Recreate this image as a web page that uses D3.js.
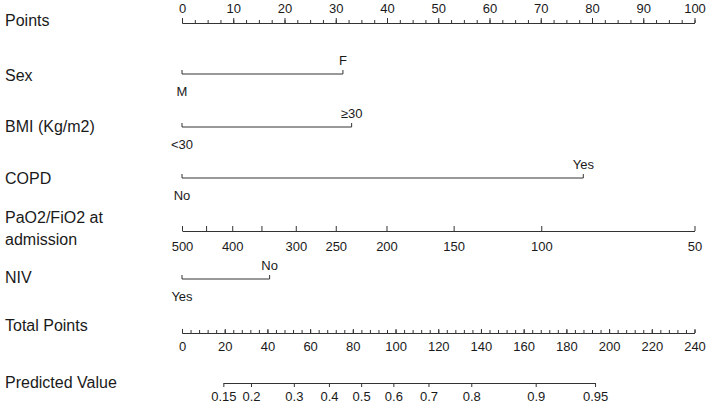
<!DOCTYPE html>
<html>
<head>
<meta charset="utf-8">
<script src="https://cdn.jsdelivr.net/npm/d3@7"></script>
<style>
  body { margin: 0; background: #fff; }
  svg text { font-family: "Liberation Sans", Arial, sans-serif; fill: #1a1a1a; }
  .axis path, .axis line { stroke: #333; stroke-width: 1; }
</style>
</head>
<body>
<div id="graph"></div>
<script>
// ---- data ----
// points scale
var pointTicks = d3.range(0, 101, 10);
var pointMinor = d3.range(0, 100.1, 2.5);

// categorical predictors: level labels and their points
var sexLevels  = ["M", "F"];
var sexPoints  = [0, 31.4];
var bmiLevels  = ["<30", "≥30"];
var bmiPoints  = [0, 33.1];
var copdLevels = ["No", "Yes"];
var copdPoints = [0, 78.3];
var nivLevels  = ["Yes", "No"];
var nivPoints  = [0, 17.1];

// continuous predictor PaO2/FiO2
var pfValues = [500, 450, 400, 350, 300, 250, 200, 150, 100, 50];
var pfPoints = [0, 4.7, 9.8, 15.5, 22.2, 30.0, 39.9, 53.0, 70.1, 100];
var pfLabels = ["500", "", "400", "", "300", "250", "200", "150", "100", "50"];

// total points
var totalTicks = d3.range(0, 241, 20);
var totalMinor = d3.range(0, 240.1, 4);

// predicted value (logit link)
var predTicks = [0.15, 0.2, 0.3, 0.4, 0.5, 0.6, 0.7, 0.8, 0.9, 0.95];
var predLabels = ["0.15", "0.2", "0.3", "0.4", "0.5", "0.6", "0.7", "0.8", "0.9", "0.95"];
var lpIntercept = -2.255;   // linear predictor at 0 total points
var lpSlope = 0.02688;      // per total point

var width = 708, height = 406;
var x0 = 182, x1 = 694.5;

var svg = d3.select("#graph").append("svg")
  .attr("width", width).attr("height", height);

var pointsScale = d3.scaleLinear().domain([0, 100]).range([x0, x1]);
var totalScale = d3.scaleLinear().domain([0, 240]).range([x0, x1]);
var pfScale = d3.scaleLinear().domain(pfValues).range(pfPoints.map(pointsScale));

// predicted probability -> pixel, through total points scale
function predX(p) {
  var lp = Math.log(p / (1 - p));
  return totalScale((lp - lpIntercept) / lpSlope);
}

// row labels
function rowLabel(txt, y) {
  svg.append("text").attr("x", 5).attr("y", y).attr("dy", "0.35em")
    .attr("font-size", 16).text(txt);
}

rowLabel("Points", 20);
rowLabel("Sex", 75);
rowLabel("BMI (Kg/m2)", 126);
rowLabel("COPD", 178);
rowLabel("PaO2/FiO2 at", 217);
rowLabel("admission", 239);
rowLabel("NIV", 277);
rowLabel("Total Points", 325);
rowLabel("Predicted Value", 382);

function styleAxis(g, size) {
  g.attr("font-family", null).attr("font-size", null);
  g.selectAll("text").attr("font-size", size).attr("fill", "#1a1a1a");
  g.select(".domain").attr("stroke", "#333");
  g.selectAll(".tick line").attr("stroke", "#333");
}

// ---- Points axis ----
var yPts = 23;
svg.append("g").attr("class", "axis")
  .attr("transform", "translate(0," + yPts + ")")
  .call(d3.axisTop(pointsScale).tickValues(pointMinor).tickSizeInner(3).tickSizeOuter(0).tickFormat(""));
svg.append("g").attr("class", "axis")
  .attr("transform", "translate(0," + yPts + ")")
  .call(d3.axisTop(pointsScale).tickValues(pointTicks).tickSizeInner(5).tickSizeOuter(0).tickPadding(5.5))
  .call(styleAxis, 13);

// ---- categorical rows ----
function levelRow(levels, pts, y) {
  var g = svg.append("g");
  var xs = pts.map(pointsScale);
  g.append("line").attr("x1", d3.min(xs)).attr("x2", d3.max(xs))
    .attr("y1", y).attr("y2", y).attr("stroke", "#333");
  g.selectAll("line.tk").data(pts).enter().append("line").attr("class", "tk")
    .attr("x1", function(d) { return pointsScale(d); })
    .attr("x2", function(d) { return pointsScale(d); })
    .attr("y1", y).attr("y2", y - 4).attr("stroke", "#333");
  g.selectAll("text").data(levels).enter().append("text")
    .attr("x", function(d, i) { return pointsScale(pts[i]); })
    .attr("y", function(d, i) { return i % 2 === 0 ? y + 17.5 : y - 14; })
    .attr("dy", "0.35em")
    .attr("text-anchor", "middle")
    .attr("font-size", 13)
    .text(function(d) { return d; });
}

levelRow(sexLevels, sexPoints, 74);
levelRow(bmiLevels, bmiPoints, 127);
levelRow(copdLevels, copdPoints, 178);
levelRow(nivLevels, nivPoints, 279);

// ---- PaO2/FiO2 axis ----
svg.append("g").attr("class", "axis")
  .attr("transform", "translate(0,231)")
  .call(d3.axisBottom(pfScale).tickValues(pfValues).tickSizeInner(-5).tickSizeOuter(0).tickPadding(11)
    .tickFormat(function(d, i) { return pfLabels[i]; }))
  .call(styleAxis, 13);

// ---- Total points axis ----
var yTot = 333;
svg.append("g").attr("class", "axis")
  .attr("transform", "translate(0," + yTot + ")")
  .call(d3.axisBottom(totalScale).tickValues(totalMinor).tickSizeInner(-3).tickSizeOuter(0).tickFormat(""));
svg.append("g").attr("class", "axis")
  .attr("transform", "translate(0," + yTot + ")")
  .call(d3.axisBottom(totalScale).tickValues(totalTicks).tickSizeInner(-4).tickSizeOuter(0).tickPadding(9))
  .call(styleAxis, 13);

// ---- Predicted value axis ----
var predScale = function(p) { return predX(p); };
predScale.range = function() { return [predX(predTicks[0]), predX(predTicks[predTicks.length - 1])]; };
predScale.copy = function() { return predScale; };
svg.append("g").attr("class", "axis")
  .attr("transform", "translate(0,383)")
  .call(d3.axisBottom(predScale).tickValues(predTicks).tickSizeInner(4).tickSizeOuter(0).tickPadding(5)
    .tickFormat(function(d, i) { return predLabels[i]; }))
  .call(styleAxis, 13);
</script>
</body>
</html>
